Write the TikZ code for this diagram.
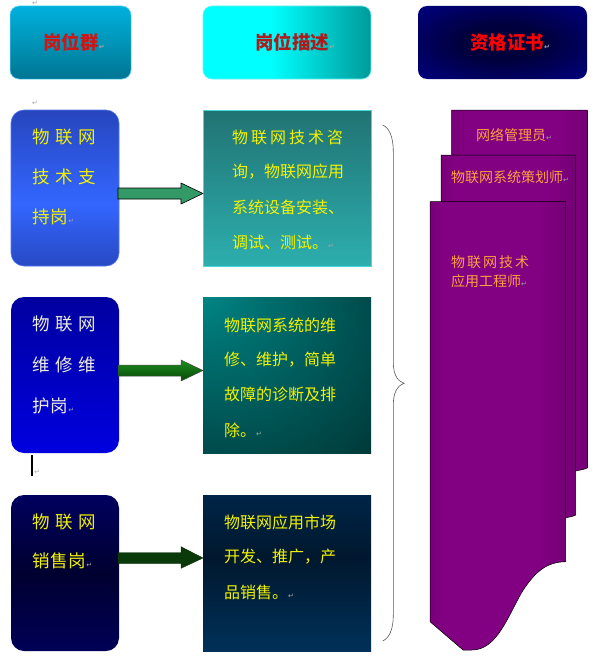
\documentclass[tikz,border=0pt]{standalone}
\usepackage{fontspec}
\newfontfamily\cjk{Noto Sans CJK SC}
\newfontfamily\dv{DejaVu Sans}
\usetikzlibrary{calc}
\definecolor{hAtop}{HTML}{00CCFF}
\definecolor{hAmid}{HTML}{0094B8}
\definecolor{hAbot}{HTML}{00566E}
\definecolor{hAline}{HTML}{5ED8FF}
\definecolor{hBl}{HTML}{00E6E6}
\definecolor{hBc}{HTML}{00FFFF}
\definecolor{hBr}{HTML}{007878}
\definecolor{hBline}{HTML}{70F0F0}
\definecolor{hCin}{HTML}{00003C}
\definecolor{hCout}{HTML}{000086}
\definecolor{Atop}{HTML}{1C2A88}
\definecolor{Amid}{HTML}{3366FF}
\definecolor{Abot}{HTML}{1A2478}
\definecolor{Aline}{HTML}{5078F0}
\definecolor{Btop}{HTML}{000080}
\definecolor{Bbot}{HTML}{0000FF}
\definecolor{Ctop}{HTML}{00008C}
\definecolor{Cmid}{HTML}{000030}
\definecolor{Cbot}{HTML}{00007C}
\definecolor{Dtop}{HTML}{1B5555}
\definecolor{Dbot}{HTML}{33CCCC}
\definecolor{Dline}{HTML}{48D8D8}
\definecolor{Ein}{HTML}{008A8A}
\definecolor{Emid}{HTML}{007070}
\definecolor{Eout}{HTML}{003A3A}
\definecolor{Ftop}{HTML}{003468}
\definecolor{Fmid}{HTML}{00182E}
\definecolor{Fbot}{HTML}{00457C}
\definecolor{pL}{HTML}{48004C}
\definecolor{pM}{HTML}{820082}
\definecolor{pR}{HTML}{56005A}
\definecolor{arrA}{HTML}{339966}
\definecolor{arrBt}{HTML}{1E8E1E}
\definecolor{arrBb}{HTML}{064806}
\definecolor{arrC}{HTML}{0A3A0A}
\definecolor{txtY}{HTML}{F2F200}
\definecolor{txtW}{HTML}{EEEEDD}
\definecolor{txtO}{HTML}{FFA040}
\definecolor{redA}{HTML}{D01515}
\definecolor{redB}{HTML}{B01A1A}
\definecolor{redC}{HTML}{FF0000}
\pgfdeclareverticalshading{hAsh}{100bp}{color(0bp)=(hAbot); color(50bp)=(hAmid); color(100bp)=(hAtop)}
\pgfdeclarehorizontalshading{hBsh}{100bp}{color(0bp)=(hBl); color(10bp)=(hBc); color(45bp)=(hBc); color(85bp)=(hBr); color(100bp)=(hBr)}
\pgfdeclareradialshading{hCsh}{\pgfpoint{0bp}{0bp}}{color(0bp)=(hCin); color(12bp)=(hCin); color(38bp)=(hCout); color(80bp)=(hCout)}
\pgfdeclareverticalshading{Ash}{100bp}{color(0bp)=(Abot); color(45bp)=(Amid); color(100bp)=(Atop)}
\pgfdeclareverticalshading{Bsh}{100bp}{color(0bp)=(Bbot); color(100bp)=(Btop)}
\pgfdeclareverticalshading{Csh}{100bp}{color(0bp)=(Cbot); color(50bp)=(Cmid); color(100bp)=(Ctop)}
\pgfdeclareverticalshading{Dsh}{100bp}{color(0bp)=(Dbot); color(100bp)=(Dtop)}
\pgfdeclareradialshading{Esh}{\pgfpoint{-28bp}{28bp}}{color(0bp)=(Ein); color(15bp)=(Emid); color(55bp)=(Eout); color(110bp)=(Eout)}
\pgfdeclareverticalshading{Fsh}{100bp}{color(0bp)=(Fbot); color(55bp)=(Fmid); color(100bp)=(Ftop)}
\pgfdeclarehorizontalshading{Psh}{100bp}{color(0bp)=(pL); color(30bp)=(pM); color(65bp)=(pM); color(100bp)=(pR)}
\newcommand\retmark{{\dv\fontsize{7}{7}\selectfont\textcolor{gray!70}{↵}}}
\begin{document}
\begin{tikzpicture}[x=1pt,y=-1pt,
  hbox/.style={inner sep=0pt, outer sep=0pt, rounded corners=9pt, minimum width=#1, minimum height=73pt, shade},
  rbox/.style={inner sep=0pt, outer sep=0pt, rounded corners=13pt, minimum width=108pt, minimum height=156pt, shade},
  dbox/.style={inner sep=0pt, outer sep=0pt, minimum width=168pt, minimum height=156pt, shade},
  htext/.style={inner sep=0pt, font=\cjk\bfseries\fontsize{18.5}{20}\selectfont},
  tA/.style={anchor=west, inner sep=0pt, font=\cjk\fontsize{17.5}{20}\selectfont, text=txtY},
  tW/.style={tA, text=txtW},
  tD/.style={anchor=west, inner sep=0pt, font=\cjk\fontsize{16}{18}\selectfont, text=txtY},
  tP/.style={anchor=west, inner sep=0pt, font=\cjk\fontsize{14}{16}\selectfont, text=txtO},
  pmark/.style={inner sep=0pt},
  arrowA/.style={fill=arrA, draw=black, line width=0.6pt, line join=miter},
  arrowB/.style={top color=arrBt, bottom color=arrBb, draw=black!70, line width=0.5pt},
  arrowC/.style={fill=arrC, draw=arrC!80!black, line width=0.4pt},
  purp/.style={shade, shading=Psh, draw=black, line width=0.5pt},
  bracestyle/.style={draw=black!65, line width=0.6pt}]
\useasboundingbox (0,0) rectangle (604,661);

% header row
\node[hbox=121pt, shading=hAsh, draw=hAline, line width=0.5pt] (h1) at (70.5,42.5) {};
\node[hbox=168pt, shading=hBsh, draw=hBline, line width=0.6pt] (h2) at (287,42.5) {};
\node[hbox=169pt, shading=hCsh] (h3) at (502.5,42.5) {};
\node[htext, text=redA] (h1t) at ($(h1.center)+(0.5,0)$) {岗位群\rlap{\retmark}};
\node[htext, text=redB] (h2t) at ($(h2.center)+(5,0)$) {岗位描述\rlap{\retmark}};
\node[htext, text=redC] (h3t) at ($(h3.center)+(4.5,0)$) {资格证书\rlap{\retmark}};

% left boxes
\node[rbox, shading=Ash, draw=Aline, line width=0.6pt] (A) at (65,188) {};
\node[rbox, shading=Bsh] (B) at (65,375) {};
\node[rbox, shading=Csh] (C) at (65,573) {};

% description boxes
\node[dbox, shading=Dsh, draw=Dline, line width=0.6pt] (D) at (287,188) {};
\node[dbox, shading=Esh] (E) at (287,375) {};
\node[dbox, shading=Fsh] (F) at (287,573) {};

% arrows
\draw[arrowA] ($(A.east)+(-1,0)$) -- ($(D.west)+(-22,0)$) -- ($(D.west)+(-22,-5)$) -- ($(D.west)+(0,5.5)$)
  -- ($(D.west)+(-22,16)$) -- ($(D.west)+(-22,11)$) -- ($(A.east)+(-1,11)$) -- cycle;
\draw[arrowB] ($(B.east)+(-1,-10)$) -- ($(E.west)+(-22,-10)$) -- ($(E.west)+(-22,-15)$) -- ($(E.west)+(0,-4.5)$)
  -- ($(E.west)+(-22,6)$) -- ($(E.west)+(-22,1)$) -- ($(B.east)+(-1,1)$) -- cycle;
\draw[arrowC] ($(C.east)+(-1,-20.3)$) -- ($(F.west)+(-22,-20.3)$) -- ($(F.west)+(-22,-26.3)$) -- ($(F.west)+(0,-15)$)
  -- ($(F.west)+(-22,-4.7)$) -- ($(F.west)+(-22,-9.7)$) -- ($(C.east)+(-1,-9.7)$) -- cycle;

% texts of left boxes
\node[tA] (a1) at (32.5,137) {\makebox[63pt]{物\hfill 联\hfill 网}};
\node[tA] (a2) at (32.5,177) {\makebox[63pt]{技\hfill 术\hfill 支}};
\node[tA] (a3) at (32.5,217) {持\hspace{0.6pt}岗\retmark};
\node[tW] (b1) at (32.5,324) {\makebox[63pt]{物\hfill 联\hfill 网}};
\node[tW] (b2) at (32.5,365) {\makebox[63pt]{维\hfill 修\hfill 维}};
\node[tW] (b3) at (32.5,406) {护\hspace{0.6pt}岗\retmark};
\node[tA] (c1) at (32.5,522) {\makebox[63pt]{物\hfill 联\hfill 网}};
\node[tA] (c2) at (32.5,561) {销\hspace{0.6pt}售\hspace{0.6pt}岗\retmark};

% texts of description boxes
\node[tD] (d1) at (232,137) {\makebox[111pt]{物\hfill 联\hfill 网\hfill 技\hfill 术\hfill 咨}};
\node[tD] (d2) at (232,172) {询，物联网应用};
\node[tD] (d3) at (232,207) {系统设备安装、};
\node[tD] (d4) at (232,242) {调试、测试。\retmark};
\node[tD] (e1) at (224,325) {物联网系统的维};
\node[tD] (e2) at (224,360) {修、维护，简单};
\node[tD] (e3) at (224,394) {故障的诊断及排};
\node[tD] (e4) at (224,430) {除。\retmark};
\node[tD] (f1) at (224,522) {物联网应用市场};
\node[tD] (f2) at (224,557) {开发、推广，产};
\node[tD] (f3) at (224,592) {品销售。\retmark};

% brace
\draw[bracestyle] (382.7,125) .. controls (389,128) and (393.3,136) .. (393.3,152) -- (393.3,362)
  .. controls (393.3,374) and (397,381) .. (404,383.3)
  .. controls (397,386) and (393.3,393) .. (393.3,405) -- (393.3,615)
  .. controls (393.3,630) and (389,638) .. (382.7,641);

% certificate sheets
\path[purp] (451.7,110) -- (587.3,110) -- (587.3,468) .. controls (583,470) and (579,470) .. (575.7,471) -- (451.7,471) -- cycle;
\path[purp] (441,155) -- (575.7,155) -- (575.7,515) .. controls (572,517) and (568,517) .. (565.7,518) -- (441,518) -- cycle;
\path[purp] (430,201.7) -- (565.7,201.7) -- (565.7,561.7)
  .. controls (548,562) and (536,570) .. (522,592)
  .. controls (508,616) and (497,650) .. (472,650)
  -- (463,650) -- (430,621.7) -- cycle;
\node[tP] (p1) at (476,135) {网络管理员\retmark};
\node[tP] (p2) at (451,177) {物联网系统策划师\retmark};
\node[tP] (p3) at (451,262) {\makebox[78pt]{物\hfill 联\hfill 网\hfill 技\hfill 术}};
\node[tP] (p4) at (451,281) {应用工程师\retmark};

% paragraph marks and cursor
\node[pmark] (m1) at (35,3.5) {\retmark};
\node[pmark] (m2) at (35,103) {\retmark};
\draw[line width=1.4pt] (32,455) -- (32,476);
\node[pmark] (m3) at (37,472) {\retmark};
\end{tikzpicture}
\end{document}
